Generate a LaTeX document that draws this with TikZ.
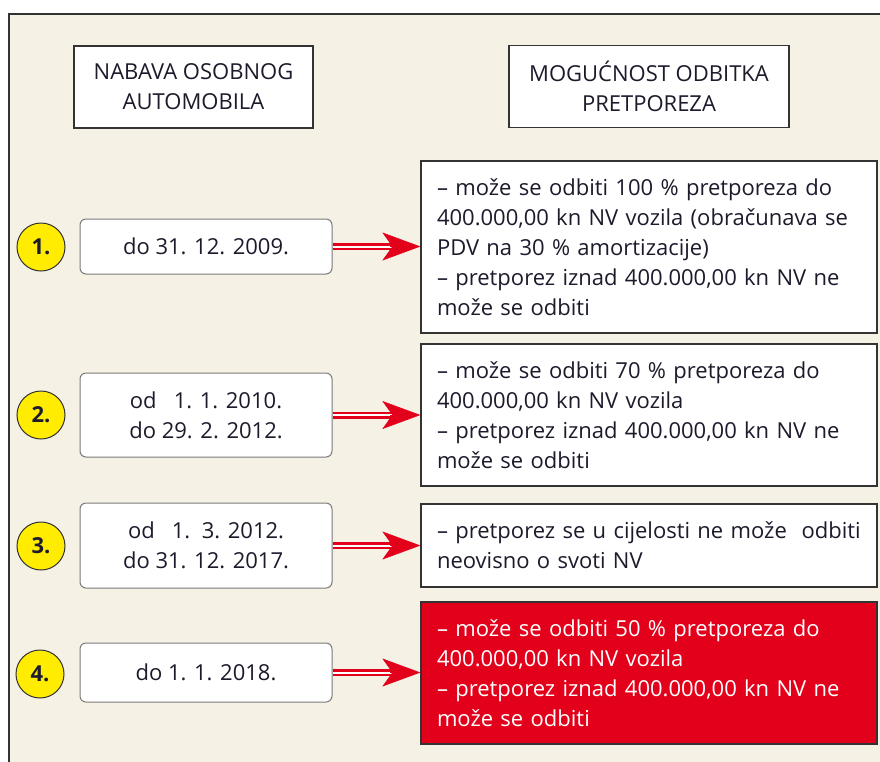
\documentclass[tikz,border=0pt]{standalone}
\usepackage{fontspec}
\setmainfont{Open Sans}
\usetikzlibrary{arrows.meta}
\definecolor{bgbeige}{HTML}{F5F1E4}
\definecolor{txtdark}{HTML}{1B1B2C}
\definecolor{boxline}{HTML}{333333}
\definecolor{dateline}{HTML}{7A7A7A}
\definecolor{markyellow}{HTML}{FFEC00}
\definecolor{arrowred}{HTML}{E2001A}

\begin{document}
\begin{tikzpicture}[x=1pt, y=-1pt,
		every node/.style={text=txtdark, font=\fontsize{22}{30}\selectfont},
		headbox/.style={draw=boxline, line width=1.3pt, fill=white, minimum height=82pt, align=center, inner sep=0pt},
		datebox/.style={draw=dateline, line width=1pt, fill=white, rounded corners=6pt, minimum width=252pt, align=center, inner sep=0pt},
		infobox/.style={draw=boxline, line width=1.3pt, fill=white, text width=424pt, align=left, inner xsep=16pt, inner ysep=0pt},
		nummark/.style={circle, draw=boxline, line width=1pt, fill=markyellow, minimum size=48pt, inner sep=0pt, font=\fontsize{22}{24}\selectfont\bfseries},
		redarrow/.style={draw=arrowred, line width=2.5pt, double=white, double distance=2pt, shorten >=20pt},
		redtip/.style={draw=arrowred, line width=0.5pt, -{Stealth[length=38pt, width=28pt, inset=10pt]}}
	]
			\useasboundingbox (0,0) rectangle (880,761);
			\fill[white] (0,0) rectangle (880,761);
			\filldraw[fill=bgbeige, draw=boxline, line width=1.5pt] (9,14) rectangle (892,773);
			
			\node[headbox, minimum width=239pt] (nabava) at (193.5,87) {NABAVA OSOBNOG\\AUTOMOBILA};
			\node[headbox, minimum width=280pt] (odbitak) at (649,86.5) {MOGUĆNOST ODBITKA\\PRETPOREZA};
			
			\node[nummark] (n1) at (41,247) {1.};
			\node[datebox, minimum height=55pt] (d1) at (206,246.5) {do 31. 12. 2009.};
			\node[infobox, minimum height=172pt] (r1) at (649,247) {– može se odbiti 100 \% pretporeza do\\400.000,00 kn NV vozila (obračunava se\\PDV na 30 \% amortizacije)\\– pretporez iznad 400.000,00 kn NV ne\\može se odbiti};
			\coordinate (t1) at (d1.east -| r1.west);
			\draw[redarrow] (d1.east) -- (t1);
			\draw[redtip] ([xshift=-30pt]t1) -- (t1);
			
			\node[nummark] (n2) at (41,415) {2.};
			\node[datebox, minimum height=84pt] (d2) at (206,415) {od\ \ \ 1. 1. 2010.\\do 29. 2. 2012.};
			\node[infobox, minimum height=142pt] (r2) at (649,415) {– može se odbiti 70 \% pretporeza do\\400.000,00 kn NV vozila\\– pretporez iznad 400.000,00 kn NV ne\\može se odbiti};
			\coordinate (t2) at (d2.east -| r2.west);
			\draw[redarrow] (d2.east) -- (t2);
			\draw[redtip] ([xshift=-30pt]t2) -- (t2);
			
			\node[nummark] (n3) at (41,546) {3.};
			\node[datebox, minimum height=85pt] (d3) at (206,545.5) {od\ \ \ 1.\ \ 3. 2012.\\do 31. 12. 2017.};
			\node[infobox, minimum height=83pt] (r3) at (649,545.5) {– pretporez se u cijelosti ne može\ \ odbiti\\neovisno o svoti NV};
			\coordinate (t3) at (d3.east -| r3.west);
			\draw[redarrow] (d3.east) -- (t3);
			\draw[redtip] ([xshift=-30pt]t3) -- (t3);
			
			\node[nummark] (n4) at (40,674) {4.};
			\node[datebox, minimum height=59pt] (d4) at (206,672.5) {do 1. 1. 2018.};
			\node[infobox, fill=arrowred, text=white, minimum height=142pt] (r4) at (649,673) {– može se odbiti 50 \% pretporeza do\\400.000,00 kn NV vozila\\– pretporez iznad 400.000,00 kn NV ne\\može se odbiti};
			\coordinate (t4) at (d4.east -| r4.west);
			\draw[redarrow] (d4.east) -- (t4);
			\draw[redtip] ([xshift=-30pt]t4) -- (t4);
		\end{tikzpicture}
\end{document}
